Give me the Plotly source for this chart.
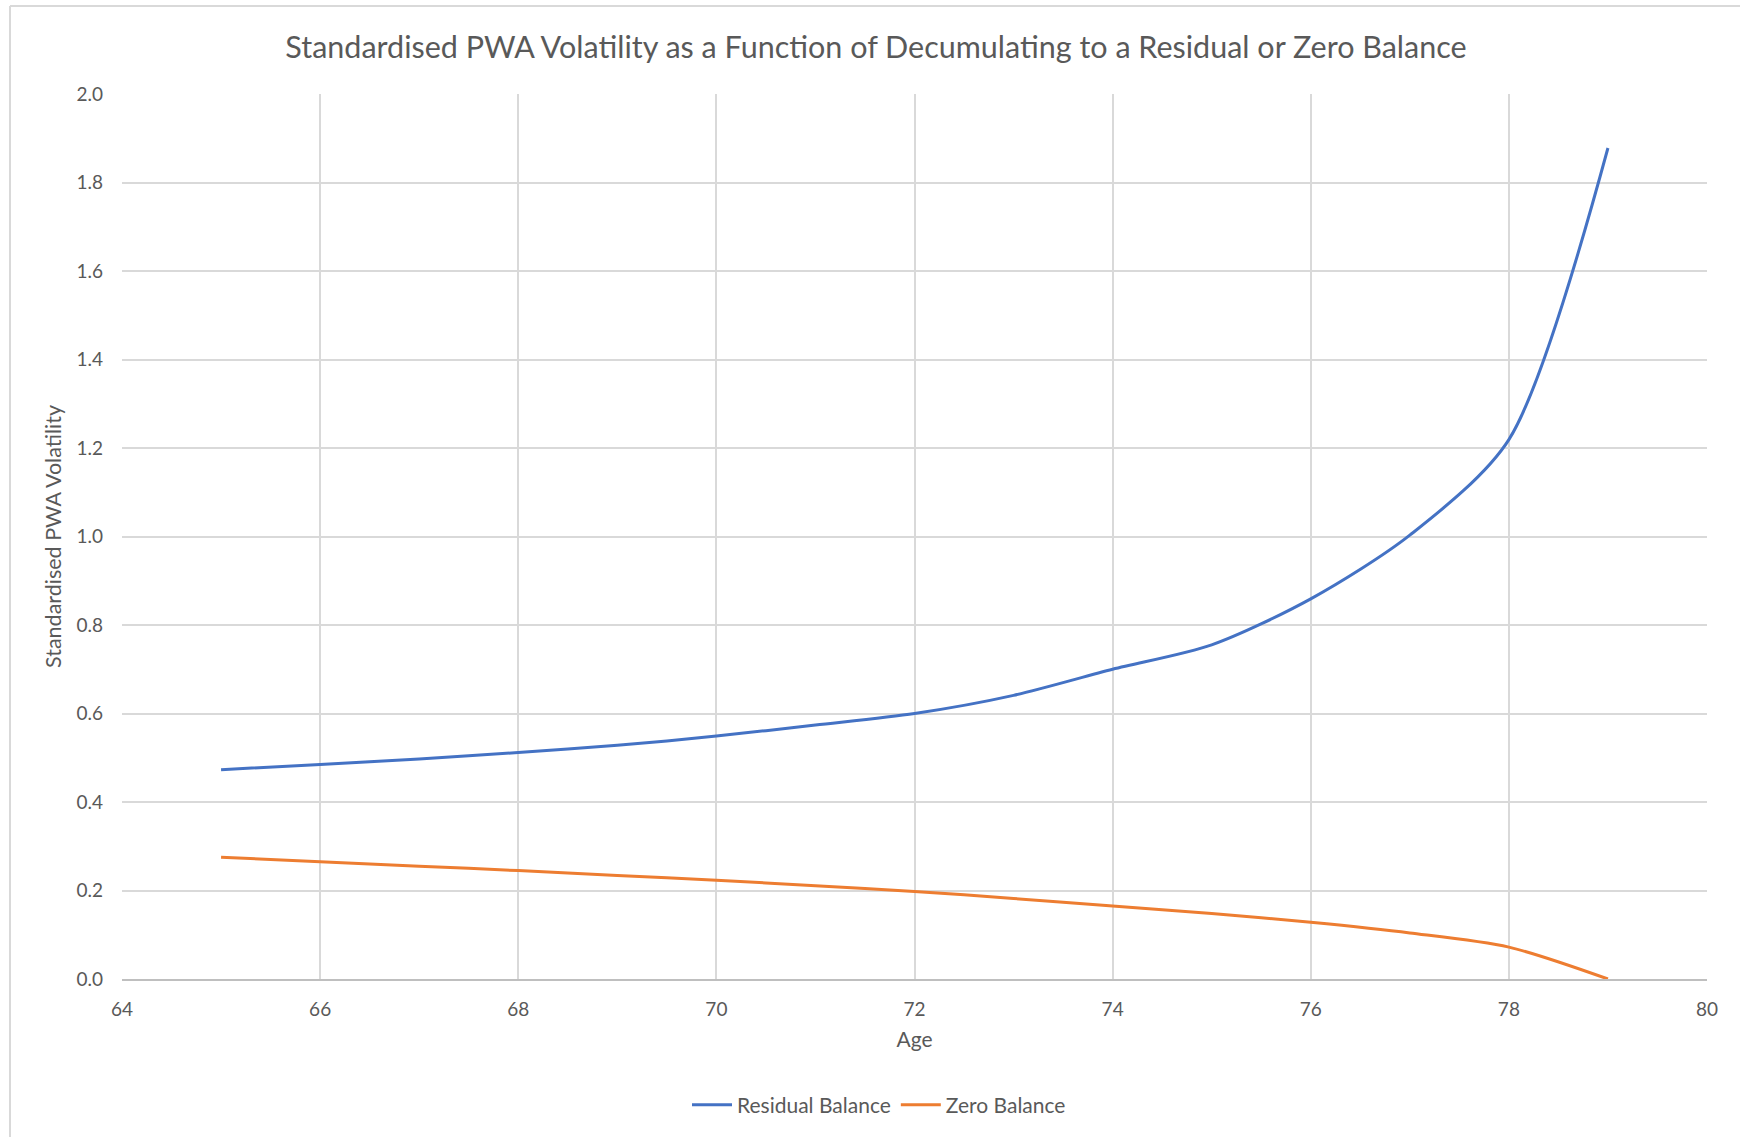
import plotly.graph_objects as go

# Age in years
ages = [65, 66, 67, 68, 69, 70, 71, 72, 73, 74, 75, 76, 77, 78, 79]

# Standardised PWA volatility by decumulation target
residual_balance = [0.473, 0.485, 0.497, 0.512, 0.528, 0.549, 0.574, 0.600,
                    0.641, 0.700, 0.755, 0.859, 1.003, 1.219, 1.878]
zero_balance = [0.275, 0.265, 0.255, 0.245, 0.234, 0.223, 0.211, 0.198,
                0.182, 0.165, 0.148, 0.128, 0.104, 0.072, 0.0]

x_ticks = [64, 66, 68, 70, 72, 74, 76, 78, 80]
y_ticks = [0.0, 0.2, 0.4, 0.6, 0.8, 1.0, 1.2, 1.4, 1.6, 1.8, 2.0]

FONT = "Lato, 'Open Sans', sans-serif"
TEXT = "#595959"
GRID = "#D9D9D9"

W, H = 1740, 1137
ML, MR, MT, MB = 122, 33, 94, 158
PW, PH = W - ML - MR, H - MT - MB


def px_x(p):
    return (p - ML) / PW


def px_y(p):
    return (H - MB - p) / PH


fig = go.Figure()
fig.add_trace(go.Scatter(
    x=ages, y=residual_balance, name="Residual Balance", mode="lines",
    line=dict(color="#4472C4", width=3, shape="spline", smoothing=0.8),
))
fig.add_trace(go.Scatter(
    x=ages, y=zero_balance, name="Zero Balance", mode="lines",
    line=dict(color="#ED7D31", width=3, shape="spline", smoothing=0.8),
))

fig.update_layout(
    width=W, height=H,
    margin=dict(l=ML, r=MR, t=MT, b=MB),
    paper_bgcolor="white", plot_bgcolor="white",
    font=dict(family=FONT, color=TEXT, size=18),
    title=dict(
        text="Standardised PWA Volatility as a Function of Decumulating to a Residual or Zero Balance",
        x=876 / W, xanchor="center", xref="container", y=1 - 47 / H, yanchor="middle",
        font=dict(family=FONT, size=30.5, color=TEXT),
    ),
    xaxis=dict(
        range=[64, 80], tickvals=x_ticks, ticktext=[str(v) for v in x_ticks],
        showgrid=True, gridcolor=GRID, gridwidth=2,
        showline=True, linecolor="#BFBFBF", linewidth=2, mirror=False,
        zeroline=False, ticks="", ticklabelstandoff=12,
        title=dict(text="Age", font=dict(size=21, color=TEXT), standoff=14),
        tickfont=dict(size=19, color=TEXT),
    ),
    yaxis=dict(
        range=[0, 2.0], tickvals=y_ticks, ticktext=[f"{v:.1f}" for v in y_ticks],
        showgrid=True, gridcolor=GRID, gridwidth=2,
        showline=False, zeroline=False, ticks="", ticklabelstandoff=18,
        title=dict(text="Standardised PWA Volatility", font=dict(size=21.5, color=TEXT), standoff=8),
        tickfont=dict(size=19, color=TEXT),
    ),
    legend=dict(
        orientation="h", x=px_x(879), xanchor="center", xref="paper",
        y=px_y(1105), yanchor="middle",
        font=dict(size=21, color=TEXT), itemwidth=40,
        bgcolor="rgba(0,0,0,0)",
    ),
    showlegend=True,
)

# Chart-area frame (left and top edges)
fig.add_shape(type="line", xref="paper", yref="paper",
              x0=px_x(10), x1=px_x(10), y0=px_y(H + 5), y1=px_y(6),
              line=dict(color="#D9D9D9", width=2), layer="below")
fig.add_shape(type="line", xref="paper", yref="paper",
              x0=px_x(10), x1=px_x(W + 5), y0=px_y(6), y1=px_y(6),
              line=dict(color="#D9D9D9", width=2), layer="below")

fig.write_html("out.html")
